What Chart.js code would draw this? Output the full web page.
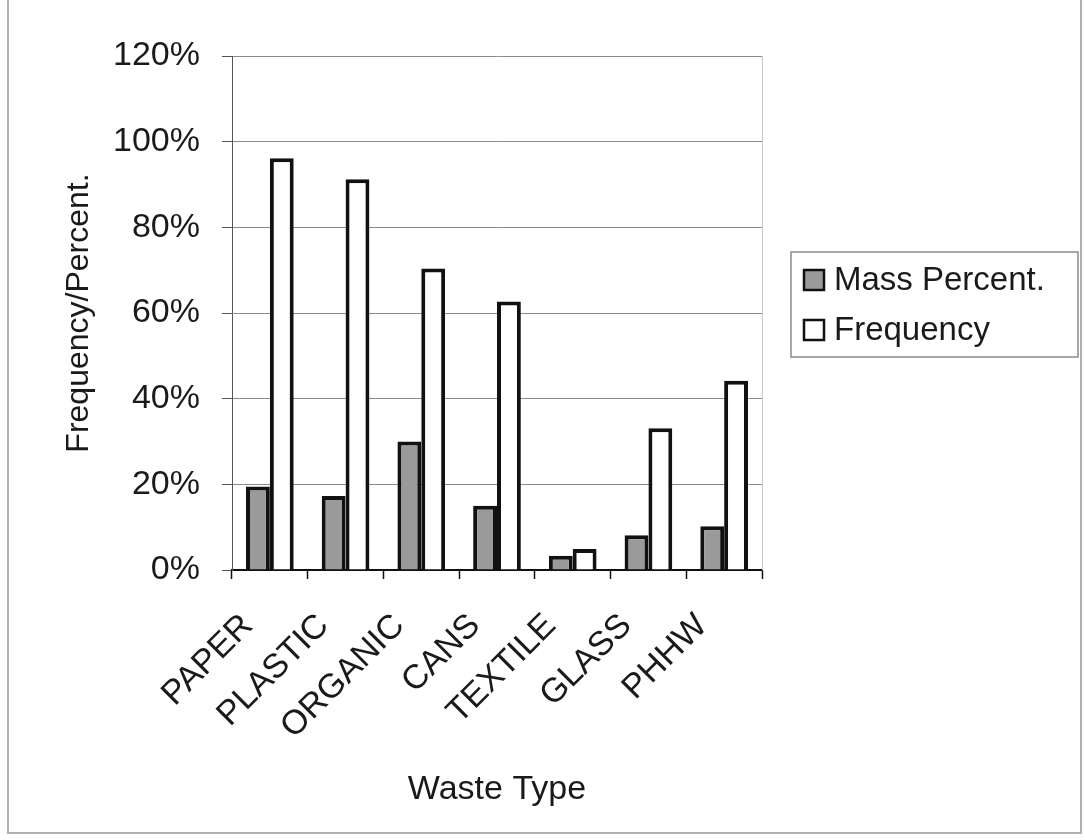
<!DOCTYPE html>
<html>
<head>
<meta charset="utf-8">
<script src="https://cdn.jsdelivr.net/npm/chart.js@4/dist/chart.umd.min.js"></script>
<style>
html,body{margin:0;padding:0;background:#fff;}
#wrap{width:1085px;height:840px;position:relative;}
canvas{display:block;}
</style>
</head>
<body>
<div id="wrap"><canvas id="c" width="1085" height="840"></canvas></div>
<script>
const categories = ['PAPER', 'PLASTIC', 'ORGANIC', 'CANS', 'TEXTILE', 'GLASS', 'PHHW'];
const massPercent = [19.5, 17.3, 30.0, 15.0, 3.3, 8.1, 10.2];
const frequency = [96.1, 91.2, 70.4, 62.7, 4.9, 33.1, 44.2];
const seriesNames = ['Mass Percent.', 'Frequency'];
const yTickMax = 120;
const yTickStep = 20;
const xTitle = 'Waste Type';
const yTitle = 'Frequency/Percent.';

const FONT = "'Liberation Sans', Arial, sans-serif";
const TXT = '#1a1a1a';

const frameAndLegend = {
  id: 'frameAndLegend',
  beforeDraw(chart) {
    const ctx = chart.ctx;
    ctx.save();
    ctx.fillStyle = '#fff';
    ctx.fillRect(0, 0, chart.width, chart.height);
    ctx.restore();
  },
  afterDraw(chart) {
    const ctx = chart.ctx;
    const a = chart.chartArea;
    ctx.save();
    // plot right edge
    ctx.strokeStyle = '#c8c8c8';
    ctx.lineWidth = 1;
    ctx.beginPath();
    ctx.moveTo(a.right + 0.5, a.top);
    ctx.lineTo(a.right + 0.5, a.bottom);
    ctx.stroke();
    // outer frame
    ctx.strokeStyle = '#b0b0b0';
    ctx.lineWidth = 2;
    ctx.strokeRect(8, -5, 1073, 838);
    // legend
    const lx = 791, ly = 252, lw = 287, lh = 105;
    ctx.strokeStyle = '#8a8a8a';
    ctx.lineWidth = 1.5;
    ctx.strokeRect(lx, ly, lw, lh);
    const rows = [280, 330];
    chart.data.datasets.forEach((ds, i) => {
      ctx.fillStyle = ds.backgroundColor;
      ctx.fillRect(804, rows[i] - 10, 20, 20);
      ctx.strokeStyle = '#111';
      ctx.lineWidth = 2.5;
      ctx.strokeRect(804, rows[i] - 10, 20, 20);
      ctx.fillStyle = TXT;
      ctx.font = '33px ' + FONT;
      ctx.textAlign = 'left';
      ctx.textBaseline = 'middle';
      ctx.fillText(ds.label, 834, rows[i] + 1);
    });
    ctx.restore();
  }
};

new Chart(document.getElementById('c'), {
  type: 'bar',
  data: {
    labels: categories,
    datasets: [
      { label: seriesNames[0], data: massPercent, backgroundColor: '#9a9a9a', borderColor: '#111', borderWidth: 4, borderSkipped: 'bottom' },
      { label: seriesNames[1], data: frequency, backgroundColor: '#ffffff', borderColor: '#111', borderWidth: 4, borderSkipped: 'bottom' }
    ]
  },
  options: {
    responsive: false,
    animation: false,
    devicePixelRatio: 1,
    layout: { padding: { left: 60, right: 323, top: 56, bottom: 30 } },
    plugins: { legend: { display: false }, tooltip: { enabled: false }, title: { display: false } },
    datasets: { bar: { categoryPercentage: 0.63, barPercentage: 1.0 } },
    scales: {
      x: {
        offset: true,
        grid: { display: true, drawOnChartArea: false, drawTicks: true, tickLength: 9, tickColor: '#111', tickWidth: 1.5, offset: true },
        border: { display: true, color: '#111', width: 2 },
        ticks: { color: TXT, font: { family: FONT, size: 34 }, minRotation: 45, maxRotation: 45, autoSkip: false, padding: 27, labelOffset: -22 },
        title: { display: true, text: xTitle, color: TXT, font: { family: FONT, size: 34 }, padding: { top: 10, bottom: 0 } },
        afterFit(s) { s.height = 240; }
      },
      y: {
        min: 0, max: yTickMax,
        grid: { color: '#8c8c8c', lineWidth: 1, drawTicks: true, tickLength: 10, tickColor: '#555' },
        border: { display: true, color: '#555', width: 1 },
        ticks: { stepSize: yTickStep, color: TXT, font: { family: FONT, size: 34 }, padding: 22, callback: v => v + '%' },
        title: { display: true, text: yTitle, color: TXT, font: { family: FONT, size: 32 }, padding: { top: 0, bottom: 0 } },
        afterFit(s) { s.width = 172; }
      }
    }
  },
  plugins: [frameAndLegend]
});
</script>
</body>
</html>
